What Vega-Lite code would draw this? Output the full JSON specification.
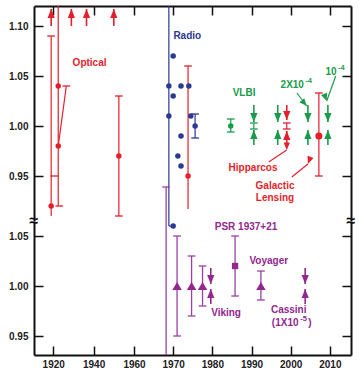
{
  "$schema": "https://vega.github.io/schema/vega-lite/v6.json",
  "autosize": {"type": "pad"},
  "bounds": "flush",
  "padding": {"left": 8, "top": 5, "right": 2, "bottom": 0},
  "spacing": 0,
  "config": {
    "view": {"stroke": null},
    "font": "Liberation Sans",
    "axis": {"grid": false, "domainColor": "#111", "domainWidth": 2, "tickColor": "#111", "tickWidth": 1.5, "tickSize": -9, "labelFont": "Liberation Sans", "labelFontWeight": "bold", "labelFontSize": 10, "labelColor": "#222", "title": null},
    "text": {"font": "Liberation Sans", "fontWeight": "bold", "fontSize": 10}
  },
  "datasets": {
    "topRules": [
      {"year": 1919, "lo": 0.91, "hi": 1.09, "s": "Optical"},
      {"year": 1922.5, "lo": 0.92, "hi": 1.12, "s": "Optical"},
      {"year": 1952.5, "lo": 0.91, "hi": 1.03, "s": "Optical"},
      {"year": 1973.8, "lo": 0.917, "hi": 1.06, "s": "Optical"},
      {"year": 1968.9, "lo": 0.9, "hi": 1.12, "s": "Radio"},
      {"year": 1975.6, "lo": 0.988, "hi": 1.012, "s": "Radio"},
      {"year": 1984.7, "lo": 0.994, "hi": 1.007, "s": "VLBI"},
      {"year": 1990.6, "lo": 0.997, "hi": 1.003, "s": "VLBI"},
      {"year": 1999, "lo": 0.997, "hi": 1.003, "s": "Optical"},
      {"year": 2007.2, "lo": 0.95, "hi": 1.033, "s": "Optical"}
    ],
    "topSlants": [
      {"x1": 1922.5, "y1": 0.98, "x2": 1926.5, "y2": 1.04, "s": "Optical"},
      {"x1": 1968.9, "y1": 0.9, "x2": 1970, "y2": 0.9, "s": "Radio"}
    ],
    "topCaps": [
      {"year": 1919, "v": 1.09, "s": "Optical"},
      {"year": 1920.5, "v": 0.95, "s": "Optical"},
      {"year": 1923, "v": 0.92, "s": "Optical"},
      {"year": 1926.5, "v": 1.04, "s": "Optical"},
      {"year": 1952.5, "v": 1.03, "s": "Optical"},
      {"year": 1952.5, "v": 0.91, "s": "Optical"},
      {"year": 1973.8, "v": 1.06, "s": "Optical"},
      {"year": 1975.6, "v": 1.012, "s": "Radio"},
      {"year": 1975.6, "v": 0.988, "s": "Radio"},
      {"year": 1984.7, "v": 1.007, "s": "VLBI"},
      {"year": 1984.7, "v": 0.994, "s": "VLBI"},
      {"year": 1990.6, "v": 1.003, "s": "VLBI"},
      {"year": 1990.6, "v": 0.997, "s": "VLBI"},
      {"year": 1999, "v": 1.003, "s": "Optical"},
      {"year": 1999, "v": 0.997, "s": "Optical"},
      {"year": 2007.2, "v": 1.033, "s": "Optical"},
      {"year": 2007.2, "v": 0.95, "s": "Optical"}
    ],
    "topPoints": [
      {"year": 1919, "v": 0.92, "s": "Optical"},
      {"year": 1922.5, "v": 1.04, "s": "Optical"},
      {"year": 1922.5, "v": 0.98, "s": "Optical"},
      {"year": 1952.5, "v": 0.97, "s": "Optical"},
      {"year": 1973.8, "v": 0.95, "s": "Optical"},
      {"year": 1970, "v": 1.07, "s": "Radio"},
      {"year": 1968.9, "v": 1.04, "s": "Radio"},
      {"year": 1972, "v": 1.04, "s": "Radio"},
      {"year": 1974, "v": 1.04, "s": "Radio"},
      {"year": 1970, "v": 1.03, "s": "Radio"},
      {"year": 1968.9, "v": 1.01, "s": "Radio"},
      {"year": 1974.5, "v": 1.01, "s": "Radio"},
      {"year": 1972, "v": 0.99, "s": "Radio"},
      {"year": 1971.2, "v": 0.97, "s": "Radio"},
      {"year": 1972, "v": 0.96, "s": "Radio"},
      {"year": 1970, "v": 0.9, "s": "Radio"},
      {"year": 1975.6, "v": 1.0, "s": "Radio"},
      {"year": 1984.7, "v": 1.0, "s": "VLBI"}
    ],
    "topArrows": [
      {"year": 1919, "tail": 1.1, "tip": 1.117, "dir": "up", "s": "Optical"},
      {"year": 1929, "tail": 1.1, "tip": 1.117, "dir": "up", "s": "Optical"},
      {"year": 1936.5, "tail": 1.1, "tip": 1.117, "dir": "up", "s": "Optical"},
      {"year": 1950, "tail": 1.1, "tip": 1.117, "dir": "up", "s": "Optical"},
      {"year": 1990.6, "tail": 1.021, "tip": 1.004, "dir": "down", "s": "VLBI"},
      {"year": 1990.6, "tail": 0.981, "tip": 0.996, "dir": "up", "s": "VLBI"},
      {"year": 1996.7, "tail": 1.021, "tip": 1.004, "dir": "down", "s": "VLBI"},
      {"year": 1996.7, "tail": 0.981, "tip": 0.996, "dir": "up", "s": "VLBI"},
      {"year": 1999, "tail": 1.021, "tip": 1.006, "dir": "down", "s": "Optical"},
      {"year": 1999, "tail": 0.981, "tip": 0.995, "dir": "up", "s": "Optical"},
      {"year": 2004.4, "tail": 1.021, "tip": 1.004, "dir": "down", "s": "VLBI"},
      {"year": 2004.4, "tail": 0.981, "tip": 0.996, "dir": "up", "s": "VLBI"},
      {"year": 2009.5, "tail": 1.021, "tip": 1.004, "dir": "down", "s": "VLBI"},
      {"year": 2009.5, "tail": 0.981, "tip": 0.996, "dir": "up", "s": "VLBI"}
    ],
    "leaders": [
      {"lab": "a", "x1": 2001.6, "y1": 1.033, "x2": 2004.1, "y2": 1.02, "s": "VLBI"},
      {"lab": "b", "x1": 2011.5, "y1": 1.05, "x2": 2009.2, "y2": 1.025, "s": "VLBI"},
      {"lab": "c", "x1": 1994.4, "y1": 0.964, "x2": 1999, "y2": 0.976, "s": "Optical"},
      {"lab": "d", "x1": 2000.3, "y1": 0.949, "x2": 2004.4, "y2": 0.962, "s": "Optical"}
    ],
    "topLabels": [
      {"year": 1938, "v": 1.063, "t": "Optical", "s": "Optical"},
      {"year": 1973.6, "v": 1.09, "t": "Radio", "s": "Radio"},
      {"year": 1988.1, "v": 1.033, "t": "VLBI", "s": "VLBI"},
      {"year": 2000.4, "v": 1.041, "t": "2X10", "s": "VLBI"},
      {"year": 2010.3, "v": 1.054, "t": "10", "s": "VLBI"},
      {"year": 1990.4, "v": 0.958, "t": "Hipparcos", "s": "Optical"},
      {"year": 1996, "v": 0.94, "t": "Galactic", "s": "Optical"},
      {"year": 1996, "v": 0.928, "t": "Lensing", "s": "Optical"}
    ],
    "topSup": [
      {"year": 2004.6, "v": 1.0455, "t": "-4", "s": "VLBI"},
      {"year": 2012.9, "v": 1.0585, "t": "-4", "s": "VLBI"}
    ],
    "botRules": [
      {"year": 1968.2, "lo": 0.931, "hi": 1.099, "s": "TimeDelay"},
      {"year": 1971, "lo": 0.95, "hi": 1.05, "s": "TimeDelay"},
      {"year": 1974.7, "lo": 0.97, "hi": 1.03, "s": "TimeDelay"},
      {"year": 1977.5, "lo": 0.98, "hi": 1.02, "s": "TimeDelay"},
      {"year": 1985.8, "lo": 0.99, "hi": 1.05, "s": "TimeDelay"},
      {"year": 1992.4, "lo": 0.986, "hi": 1.015, "s": "TimeDelay"}
    ],
    "botCaps": [
      {"year": 1968.2, "v": 1.099},
      {"year": 1971, "v": 0.95},
      {"year": 1971, "v": 1.05},
      {"year": 1974.7, "v": 0.97},
      {"year": 1974.7, "v": 1.03},
      {"year": 1977.5, "v": 0.98},
      {"year": 1977.5, "v": 1.02},
      {"year": 1985.8, "v": 0.99},
      {"year": 1985.8, "v": 1.05},
      {"year": 1992.4, "v": 0.986},
      {"year": 1992.4, "v": 1.015}
    ],
    "botTri": [
      {"year": 1971, "v": 1.0},
      {"year": 1974.7, "v": 1.0},
      {"year": 1977.5, "v": 1.0},
      {"year": 1992.4, "v": 1.0}
    ],
    "botArrows": [
      {"year": 1979.6, "tail": 1.018, "tip": 1.002, "dir": "down"},
      {"year": 1979.6, "tail": 0.982, "tip": 0.997, "dir": "up"},
      {"year": 2003.7, "tail": 1.018, "tip": 1.002, "dir": "down"},
      {"year": 2003.7, "tail": 0.982, "tip": 0.997, "dir": "up"}
    ],
    "botLabels": [
      {"year": 1988.6, "v": 1.059, "t": "PSR 1937+21"},
      {"year": 1994.4, "v": 1.025, "t": "Voyager"},
      {"year": 1983.5, "v": 0.973, "t": "Viking"},
      {"year": 1999.5, "v": 0.976, "t": "Cassini"},
      {"year": 1998.6, "v": 0.963, "t": "(1X10"},
      {"year": 2004.9, "v": 0.963, "t": ")"}
    ],
    "botSup": [
      {"year": 2003.3, "v": 0.9675, "t": "-5"}
    ]
  },
  "vconcat": [
    {
      "width": 317,
      "height": 215,
      "resolve": {"axis": {"y": "independent"}},
      "layer": [
        {
          "layer": [
            {
              "mark": {"type": "rule", "color": "#555", "strokeWidth": 1.5},
              "encoding": {
                "y": {"datum": 1, "type": "quantitative", "scale": {"domain": [0.905, 1.12], "nice": false, "zero": false}, "axis": {"values": [0.95, 1, 1.05, 1.1], "format": ".2f", "labelPadding": 15}}
              }
            },
            {
              "data": {"name": "topRules"},
              "mark": {"type": "rule", "strokeWidth": 1.2},
              "encoding": {
                "x": {"field": "year", "type": "quantitative", "scale": {"domain": [1910.5, 1960, 2015.4], "range": [0, 100, 317], "nice": false, "zero": false}, "axis": {"orient": "top", "labels": false, "values": [1920, 1940, 1960, 1970, 1980, 1990, 2000, 2010]}},
                "y": {"field": "lo", "type": "quantitative", "scale": {"domain": [0.905, 1.12], "nice": false, "zero": false}},
                "y2": {"field": "hi"},
                "color": {"field": "s", "type": "nominal", "scale": {"domain": ["Optical", "Radio", "VLBI", "TimeDelay"], "range": ["#e41e2b", "#2b3990", "#1a9b4b", "#92278f"]}, "legend": null}
              }
            },
            {
              "data": {"name": "topSlants"},
              "mark": {"type": "rule", "strokeWidth": 1.2},
              "encoding": {
                "x": {"field": "x1", "type": "quantitative", "scale": {"domain": [1910.5, 1960, 2015.4], "range": [0, 100, 317], "nice": false, "zero": false}},
                "x2": {"field": "x2"},
                "y": {"field": "y1", "type": "quantitative", "scale": {"domain": [0.905, 1.12], "nice": false, "zero": false}},
                "y2": {"field": "y2"},
                "color": {"field": "s", "type": "nominal", "scale": {"domain": ["Optical", "Radio", "VLBI", "TimeDelay"], "range": ["#e41e2b", "#2b3990", "#1a9b4b", "#92278f"]}, "legend": null}
              }
            },
            {
              "data": {"name": "topCaps"},
              "mark": {"type": "point", "shape": "M-1,0L1,0", "filled": false, "strokeWidth": 1.3, "size": 60, "opacity": 1},
              "encoding": {
                "x": {"field": "year", "type": "quantitative", "scale": {"domain": [1910.5, 1960, 2015.4], "range": [0, 100, 317], "nice": false, "zero": false}},
                "y": {"field": "v", "type": "quantitative", "scale": {"domain": [0.905, 1.12], "nice": false, "zero": false}},
                "color": {"field": "s", "type": "nominal", "scale": {"domain": ["Optical", "Radio", "VLBI", "TimeDelay"], "range": ["#e41e2b", "#2b3990", "#1a9b4b", "#92278f"]}, "legend": null}
              }
            },
            {
              "data": {"name": "topPoints"},
              "mark": {"type": "circle", "size": 30, "opacity": 1},
              "encoding": {
                "x": {"field": "year", "type": "quantitative", "scale": {"domain": [1910.5, 1960, 2015.4], "range": [0, 100, 317], "nice": false, "zero": false}},
                "y": {"field": "v", "type": "quantitative", "scale": {"domain": [0.905, 1.12], "nice": false, "zero": false}},
                "color": {"field": "s", "type": "nominal", "scale": {"domain": ["Optical", "Radio", "VLBI", "TimeDelay"], "range": ["#e41e2b", "#2b3990", "#1a9b4b", "#92278f"]}, "legend": null}
              }
            },
            {
              "data": {"values": [{"year": 2007.2, "v": 0.99, "s": "Optical"}]},
              "mark": {"type": "circle", "size": 50, "opacity": 1},
              "encoding": {
                "x": {"field": "year", "type": "quantitative", "scale": {"domain": [1910.5, 1960, 2015.4], "range": [0, 100, 317], "nice": false, "zero": false}},
                "y": {"field": "v", "type": "quantitative", "scale": {"domain": [0.905, 1.12], "nice": false, "zero": false}},
                "color": {"field": "s", "type": "nominal", "scale": {"domain": ["Optical", "Radio", "VLBI", "TimeDelay"], "range": ["#e41e2b", "#2b3990", "#1a9b4b", "#92278f"]}, "legend": null}
              }
            },
            {
              "data": {"name": "topArrows"},
              "mark": {"type": "rule", "strokeWidth": 1.6},
              "encoding": {
                "x": {"field": "year", "type": "quantitative", "scale": {"domain": [1910.5, 1960, 2015.4], "range": [0, 100, 317], "nice": false, "zero": false}},
                "y": {"field": "tail", "type": "quantitative", "scale": {"domain": [0.905, 1.12], "nice": false, "zero": false}},
                "y2": {"field": "tip"},
                "color": {"field": "s", "type": "nominal", "scale": {"domain": ["Optical", "Radio", "VLBI", "TimeDelay"], "range": ["#e41e2b", "#2b3990", "#1a9b4b", "#92278f"]}, "legend": null}
              }
            },
            {
              "data": {"name": "topArrows"},
              "mark": {"type": "point", "filled": true, "size": 52, "opacity": 1, "strokeWidth": 0},
              "encoding": {
                "x": {"field": "year", "type": "quantitative", "scale": {"domain": [1910.5, 1960, 2015.4], "range": [0, 100, 317], "nice": false, "zero": false}},
                "y": {"field": "tip", "type": "quantitative", "scale": {"domain": [0.905, 1.12], "nice": false, "zero": false}},
                "shape": {"field": "dir", "type": "nominal", "scale": {"domain": ["down", "up"], "range": ["M0,0L-1,-2.5L1,-2.5Z", "M0,0L-1,2.5L1,2.5Z"]}, "legend": null},
                "color": {"field": "s", "type": "nominal", "scale": {"domain": ["Optical", "Radio", "VLBI", "TimeDelay"], "range": ["#e41e2b", "#2b3990", "#1a9b4b", "#92278f"]}, "legend": null}
              }
            },
            {
              "data": {"name": "leaders"},
              "mark": {"type": "rule", "strokeWidth": 1.2},
              "encoding": {
                "x": {"field": "x1", "type": "quantitative", "scale": {"domain": [1910.5, 1960, 2015.4], "range": [0, 100, 317], "nice": false, "zero": false}},
                "x2": {"field": "x2"},
                "y": {"field": "y1", "type": "quantitative", "scale": {"domain": [0.905, 1.12], "nice": false, "zero": false}},
                "y2": {"field": "y2"},
                "color": {"field": "s", "type": "nominal", "scale": {"domain": ["Optical", "Radio", "VLBI", "TimeDelay"], "range": ["#e41e2b", "#2b3990", "#1a9b4b", "#92278f"]}, "legend": null}
              }
            },
            {
              "data": {"name": "leaders"},
              "mark": {"type": "point", "shape": "M0,0L-1,2.4L1,2.4Z", "filled": true, "size": 40, "opacity": 1, "strokeWidth": 0},
              "encoding": {
                "x": {"field": "x2", "type": "quantitative", "scale": {"domain": [1910.5, 1960, 2015.4], "range": [0, 100, 317], "nice": false, "zero": false}},
                "y": {"field": "y2", "type": "quantitative", "scale": {"domain": [0.905, 1.12], "nice": false, "zero": false}},
                "angle": {"field": "lab", "type": "nominal", "scale": {"domain": ["a", "b", "c", "d"], "range": [140, 200, 56, 51]}, "legend": null},
                "color": {"field": "s", "type": "nominal", "scale": {"domain": ["Optical", "Radio", "VLBI", "TimeDelay"], "range": ["#e41e2b", "#2b3990", "#1a9b4b", "#92278f"]}, "legend": null}
              }
            },
            {
              "data": {"name": "topLabels"},
              "mark": {"type": "text", "align": "center", "baseline": "middle"},
              "encoding": {
                "x": {"field": "year", "type": "quantitative", "scale": {"domain": [1910.5, 1960, 2015.4], "range": [0, 100, 317], "nice": false, "zero": false}},
                "y": {"field": "v", "type": "quantitative", "scale": {"domain": [0.905, 1.12], "nice": false, "zero": false}},
                "text": {"field": "t"},
                "color": {"field": "s", "type": "nominal", "scale": {"domain": ["Optical", "Radio", "VLBI", "TimeDelay"], "range": ["#e41e2b", "#2b3990", "#1a9b4b", "#92278f"]}, "legend": null}
              }
            },
            {
              "data": {"name": "topSup"},
              "mark": {"type": "text", "align": "center", "baseline": "middle", "fontSize": 7.5},
              "encoding": {
                "x": {"field": "year", "type": "quantitative", "scale": {"domain": [1910.5, 1960, 2015.4], "range": [0, 100, 317], "nice": false, "zero": false}},
                "y": {"field": "v", "type": "quantitative", "scale": {"domain": [0.905, 1.12], "nice": false, "zero": false}},
                "text": {"field": "t"},
                "color": {"field": "s", "type": "nominal", "scale": {"domain": ["Optical", "Radio", "VLBI", "TimeDelay"], "range": ["#e41e2b", "#2b3990", "#1a9b4b", "#92278f"]}, "legend": null}
              }
            },
            {
              "data": {"values": [{"year": 1910.5, "v": 0.905, "t": "≈"}, {"year": 2015.4, "v": 0.905, "t": "≈"}]},
              "mark": {"type": "text", "align": "center", "baseline": "middle", "fontSize": 16, "color": "#111"},
              "encoding": {
                "x": {"field": "year", "type": "quantitative", "scale": {"domain": [1910.5, 1960, 2015.4], "range": [0, 100, 317], "nice": false, "zero": false}},
                "y": {"field": "v", "type": "quantitative", "scale": {"domain": [0.905, 1.12], "nice": false, "zero": false}},
                "text": {"field": "t"}
              }
            }
          ]
        },
        {
          "mark": {"type": "rule", "opacity": 0},
          "encoding": {
            "y": {"datum": 1, "type": "quantitative", "scale": {"domain": [0.905, 1.12], "nice": false, "zero": false}, "axis": {"orient": "right", "labels": false, "values": [0.95, 1, 1.05, 1.1]}}
          }
        }
      ]
    },
    {
      "width": 317,
      "height": 134,
      "resolve": {"axis": {"y": "independent"}},
      "layer": [
        {
          "layer": [
            {
              "mark": {"type": "rule", "color": "#333", "strokeWidth": 1.3},
              "encoding": {
                "y": {"datum": 1, "type": "quantitative", "scale": {"domain": [0.931, 1.065], "nice": false, "zero": false}, "axis": {"values": [0.95, 1, 1.05], "format": ".2f", "labelPadding": 15}}
              }
            },
            {
              "data": {"name": "botRules"},
              "mark": {"type": "rule", "strokeWidth": 1.3, "color": "#9b3fa6"},
              "encoding": {
                "x": {"field": "year", "type": "quantitative", "scale": {"domain": [1910.5, 1960, 2015.4], "range": [0, 100, 317], "nice": false, "zero": false}, "axis": {"orient": "bottom", "values": [1920, 1940, 1960, 1970, 1980, 1990, 2000, 2010], "format": "d", "labelPadding": 13}},
                "y": {"field": "lo", "type": "quantitative", "scale": {"domain": [0.931, 1.065], "nice": false, "zero": false}},
                "y2": {"field": "hi"}
              }
            },
            {
              "data": {"name": "botCaps"},
              "mark": {"type": "point", "shape": "M-1,0L1,0", "filled": false, "strokeWidth": 1.3, "size": 60, "opacity": 1, "color": "#9b3fa6"},
              "encoding": {
                "x": {"field": "year", "type": "quantitative", "scale": {"domain": [1910.5, 1960, 2015.4], "range": [0, 100, 317], "nice": false, "zero": false}},
                "y": {"field": "v", "type": "quantitative", "scale": {"domain": [0.931, 1.065], "nice": false, "zero": false}}
              }
            },
            {
              "data": {"name": "botTri"},
              "mark": {"type": "point", "shape": "triangle-up", "filled": true, "size": 90, "opacity": 1, "color": "#92278f"},
              "encoding": {
                "x": {"field": "year", "type": "quantitative", "scale": {"domain": [1910.5, 1960, 2015.4], "range": [0, 100, 317], "nice": false, "zero": false}},
                "y": {"field": "v", "type": "quantitative", "scale": {"domain": [0.931, 1.065], "nice": false, "zero": false}}
              }
            },
            {
              "data": {"values": [{"year": 1985.8, "v": 1.02}]},
              "mark": {"type": "square", "size": 40, "opacity": 1, "color": "#92278f"},
              "encoding": {
                "x": {"field": "year", "type": "quantitative", "scale": {"domain": [1910.5, 1960, 2015.4], "range": [0, 100, 317], "nice": false, "zero": false}},
                "y": {"field": "v", "type": "quantitative", "scale": {"domain": [0.931, 1.065], "nice": false, "zero": false}}
              }
            },
            {
              "data": {"name": "botArrows"},
              "mark": {"type": "rule", "strokeWidth": 1.6, "color": "#92278f"},
              "encoding": {
                "x": {"field": "year", "type": "quantitative", "scale": {"domain": [1910.5, 1960, 2015.4], "range": [0, 100, 317], "nice": false, "zero": false}},
                "y": {"field": "tail", "type": "quantitative", "scale": {"domain": [0.931, 1.065], "nice": false, "zero": false}},
                "y2": {"field": "tip"}
              }
            },
            {
              "data": {"name": "botArrows"},
              "mark": {"type": "point", "filled": true, "size": 52, "opacity": 1, "strokeWidth": 0, "color": "#92278f"},
              "encoding": {
                "x": {"field": "year", "type": "quantitative", "scale": {"domain": [1910.5, 1960, 2015.4], "range": [0, 100, 317], "nice": false, "zero": false}},
                "y": {"field": "tip", "type": "quantitative", "scale": {"domain": [0.931, 1.065], "nice": false, "zero": false}},
                "shape": {"field": "dir", "type": "nominal", "scale": {"domain": ["down", "up"], "range": ["M0,0L-1,-2.5L1,-2.5Z", "M0,0L-1,2.5L1,2.5Z"]}, "legend": null}
              }
            },
            {
              "data": {"name": "botLabels"},
              "mark": {"type": "text", "align": "center", "baseline": "middle", "color": "#92278f"},
              "encoding": {
                "x": {"field": "year", "type": "quantitative", "scale": {"domain": [1910.5, 1960, 2015.4], "range": [0, 100, 317], "nice": false, "zero": false}},
                "y": {"field": "v", "type": "quantitative", "scale": {"domain": [0.931, 1.065], "nice": false, "zero": false}},
                "text": {"field": "t"}
              }
            },
            {
              "data": {"name": "botSup"},
              "mark": {"type": "text", "align": "center", "baseline": "middle", "fontSize": 7.5, "color": "#92278f"},
              "encoding": {
                "x": {"field": "year", "type": "quantitative", "scale": {"domain": [1910.5, 1960, 2015.4], "range": [0, 100, 317], "nice": false, "zero": false}},
                "y": {"field": "v", "type": "quantitative", "scale": {"domain": [0.931, 1.065], "nice": false, "zero": false}},
                "text": {"field": "t"}
              }
            }
          ]
        },
        {
          "mark": {"type": "rule", "opacity": 0},
          "encoding": {
            "y": {"datum": 1, "type": "quantitative", "scale": {"domain": [0.931, 1.065], "nice": false, "zero": false}, "axis": {"orient": "right", "labels": false, "values": [0.95, 1, 1.05]}}
          }
        }
      ]
    }
  ]
}
